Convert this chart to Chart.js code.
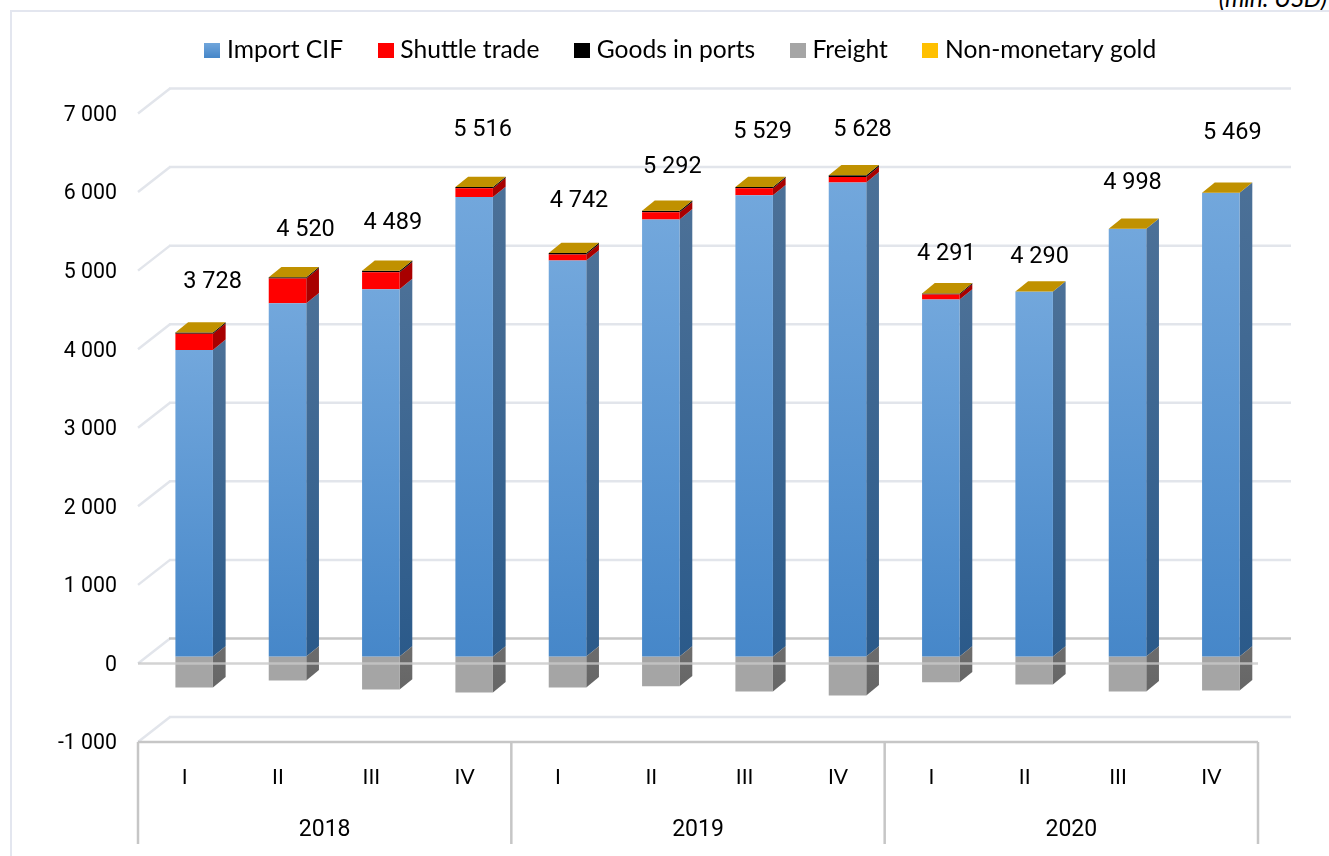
<!DOCTYPE html>
<html>

<head>
    <meta charset="UTF-8">
    <title>Imports by quarter</title>
    <script src="https://cdn.jsdelivr.net/npm/chart.js@4/dist/chart.umd.min.js"></script>
    <style>
        html, body { margin: 0; height: 100%; overflow: hidden; background: #fff; }
        #frame { position: absolute; left: 10px; top: 10px; border: 2px solid #e3e6ef; }
        #frame canvas { display: block; }
        #unit { position: absolute; right: 2px; top: -17px; font: italic 24.6px Lato, sans-serif; color: #000; }
    </style>
</head>

<body>
    <div id="unit">(mln. USD)</div>
    <div id="frame"><canvas id="chart" width="1338" height="860"></canvas></div>
    <script>
        const quarters = ['I', 'II', 'III', 'IV', 'I', 'II', 'III', 'IV', 'I', 'II', 'III', 'IV'];
        const years = ['2018', '2019', '2020'];
        const importCif = [3902, 4496, 4675, 5849, 5040, 5563, 5869, 6034, 4542, 4646, 5443, 5901];
        const shuttleTrade = [206, 315, 216, 110, 76, 90, 90, 70, 64, 0, 0, 0];
        const goodsInPorts = [14, 14, 18, 15, 20, 20, 15, 20, 15, 0, 0, 0];
        const freight = [-394, -305, -420, -458, -394, -381, -445, -496, -330, -356, -445, -432];
        const gold = [0, 0, 0, 0, 0, 0, 0, 0, 0, 0, 0, 0];
        const totals = [3728, 4520, 4489, 5516, 4742, 5292, 5529, 5628, 4291, 4290, 4998, 5469];

        // hand placed total labels, px away from the top of each bar
        const labelDx = [18.5, 18, 12, 8.5, 11.5, 11.5, 8.5, 15, 5.5, 5.5, 5, 11.5];
        const labelLift = [50, 47, 48, 57, 51.5, 44, 55, 45, 39, 34, 46, 60];

        const TEXT_FONT = 'Lato, sans-serif';
        const NUM_FONT = 'Roboto, sans-serif';
        const TEXT = '#000000';
        const GRID = '#e2e5eb';
        const AXIS = '#c6c6c6';

        // fake 3d: bars sit a bit behind the front plane, the wall further back
        const BAR_SHIFT_X = 9.5, BAR_SHIFT_Y = -7;
        const BAR_DEPTH_X = 12.7, BAR_DEPTH_Y = 10.3;
        const WALL_X = 32, WALL_Y = 25;
        const SEPARATOR_LENGTH = 102;
        const LEGEND_LIFT = 41, LEGEND_SHIFT = 48;

        const fmt = v => String(v).replace(/\B(?=(\d{3})+(?!\d))/g, ' ');

        function columnGradient(ctx, top, bottom) {
            const { chart, dataIndex } = ctx;
            const y = chart.scales.y;
            if (!y || dataIndex === undefined) return bottom;
            const g = chart.ctx.createLinearGradient(0, y.getPixelForValue(importCif[dataIndex]), 0, y.getPixelForValue(0));
            g.addColorStop(0, top);
            g.addColorStop(1, bottom);
            return g;
        }

        function swatch(top, bottom) {
            const c = document.createElement('canvas');
            c.width = 16;
            c.height = 15;
            const g = c.getContext('2d');
            const fill = g.createLinearGradient(0, 0, 0, 15);
            fill.addColorStop(0, top);
            fill.addColorStop(1, bottom);
            g.fillStyle = fill;
            g.fillRect(0, 0, 16, 15);
            return c;
        }

        const seriesStyle = [
            { side: ['#4b7097', '#2b5a8a'], legend: swatch('#72a7dc', '#4687c9') },
            { side: ['#a80000', '#a80000'], legend: swatch('#ff0000', '#ff0000') },
            { side: ['#000000', '#000000'], legend: swatch('#000000', '#000000') },
            { side: ['#6b6b6b', '#666666'], legend: swatch('#a5a5a5', '#a5a5a5') },
            { side: ['#a87e00', '#a87e00'], legend: swatch('#ffc000', '#ffc000') }
        ];

        const box3d = {
            id: 'box3d',
            afterLayout(chart) {
                chart.legend.top -= LEGEND_LIFT;
                chart.legend.left += LEGEND_SHIFT;
                chart.legend.right += LEGEND_SHIFT;
            },
            beforeDatasetsDraw(chart) {
                const { ctx, scales: { x, y } } = chart;
                ctx.save();

                // wall lines and the diagonals on the left side
                y.ticks.forEach(t => {
                    const py = y.getPixelForValue(t.value);
                    ctx.lineWidth = 2.5;
                    ctx.strokeStyle = GRID;
                    ctx.beginPath();
                    ctx.moveTo(x.left, py);
                    ctx.lineTo(x.left + WALL_X, py - WALL_Y);
                    ctx.stroke();
                    ctx.strokeStyle = t.value === 0 ? AXIS : GRID;
                    ctx.beginPath();
                    ctx.moveTo(x.left + WALL_X - 1, py - WALL_Y);
                    ctx.lineTo(x.right + WALL_X + 1, py - WALL_Y);
                    ctx.stroke();
                });

                ctx.translate(BAR_SHIFT_X, BAR_SHIFT_Y);

                // side faces
                chart.data.datasets.forEach((ds, i) => {
                    const style = seriesStyle[i];
                    chart.getDatasetMeta(i).data.forEach(bar => {
                        const right = bar.x + bar.width / 2;
                        const top = Math.min(bar.y, bar.base), bottom = Math.max(bar.y, bar.base);
                        if (bottom - top < 0.01) return;
                        const g = ctx.createLinearGradient(0, top, 0, bottom);
                        g.addColorStop(0, style.side[0]);
                        g.addColorStop(1, style.side[1]);
                        ctx.fillStyle = g;
                        ctx.beginPath();
                        ctx.moveTo(right, top);
                        ctx.lineTo(right + BAR_DEPTH_X, top - BAR_DEPTH_Y);
                        ctx.lineTo(right + BAR_DEPTH_X, bottom - BAR_DEPTH_Y);
                        ctx.lineTo(right, bottom);
                        ctx.closePath();
                        ctx.fill();
                    });
                });
            },
            afterDatasetsDraw(chart) {
                const { ctx, scales: { x, y } } = chart;
                const n = chart.data.datasets.length;

                // caps take the colour of the last series in the stack
                ctx.fillStyle = '#c09100';
                chart.getDatasetMeta(n - 1).data.forEach((bar, i) => {
                    const left = bar.x - bar.width / 2, right = bar.x + bar.width / 2;
                    ctx.beginPath();
                    ctx.moveTo(left, bar.y);
                    ctx.lineTo(right, bar.y);
                    ctx.lineTo(right + BAR_DEPTH_X, bar.y - BAR_DEPTH_Y);
                    ctx.lineTo(left + BAR_DEPTH_X, bar.y - BAR_DEPTH_Y);
                    ctx.closePath();
                    ctx.fill();
                });

                ctx.font = '23.5px ' + NUM_FONT;
                ctx.fillStyle = TEXT;
                ctx.textAlign = 'center';
                ctx.textBaseline = 'middle';
                chart.getDatasetMeta(n - 1).data.forEach((bar, i) => {
                    ctx.fillText(fmt(totals[i]), bar.x + labelDx[i], bar.y - labelLift[i]);
                });
                ctx.restore();

                // front floor lines lie over the bars
                ctx.save();
                ctx.lineWidth = 2.5;
                ctx.strokeStyle = 'rgba(200,200,200,0.8)';
                ctx.beginPath();
                ctx.moveTo(x.left, y.getPixelForValue(0));
                ctx.lineTo(x.right, y.getPixelForValue(0));
                ctx.stroke();
                ctx.strokeStyle = AXIS;
                ctx.beginPath();
                ctx.moveTo(x.left, y.bottom);
                ctx.lineTo(x.right, y.bottom);
                ctx.stroke();
                for (let k = 0; k <= years.length; k++) {
                    const px = x.left + x.width * k / years.length;
                    ctx.beginPath();
                    ctx.moveTo(px, y.bottom);
                    ctx.lineTo(px, y.bottom + SEPARATOR_LENGTH);
                    ctx.stroke();
                }
                ctx.restore();
            }
        };

        const series = (label, data, backgroundColor) => ({ label, data, backgroundColor, borderWidth: 0, stack: 'all', clip: false });

        new Chart(document.getElementById('chart').getContext('2d'), {
            type: 'bar',
            data: {
                labels: quarters,
                datasets: [
                    series('Import CIF', importCif, c => columnGradient(c, '#72a7dc', '#4687c9')),
                    series('Shuttle trade', shuttleTrade, '#ff0000'),
                    series('Goods in ports', goodsInPorts, '#000000'),
                    series('Freight', freight, '#a5a5a5'),
                    series('Non-monetary gold', gold, '#ffc000')
                ]
            },
            plugins: [box3d],
            options: {
                responsive: false,
                animation: false,
                layout: { padding: { top: 26.9, right: 92, bottom: 18 } },
                datasets: { bar: { categoryPercentage: 1, barPercentage: 0.402 } },
                scales: {
                    x: {
                        stacked: true,
                        afterFit(scale) { scale.height = 52; },
                        grid: { display: false },
                        border: { display: false },
                        ticks: { autoSkip: false, maxRotation: 0, padding: 15, color: TEXT, font: { family: TEXT_FONT, size: 21 } }
                    },
                    xYear: {
                        type: 'category',
                        labels: years,
                        position: 'bottom',
                        offset: true,
                        afterFit(scale) { scale.height = 60; },
                        grid: { display: false },
                        border: { display: false },
                        ticks: { maxRotation: 0, padding: 14, color: TEXT, font: { family: NUM_FONT, size: 23 } }
                    },
                    y: {
                        stacked: true,
                        min: -1000,
                        max: 7000,
                        afterFit(scale) { scale.width = 126; },
                        grid: { display: false },
                        border: { display: false },
                        ticks: { stepSize: 1000, padding: 13, labelOffset: 2, color: TEXT, font: { family: NUM_FONT, size: 21.3 }, callback: v => fmt(v) }
                    }
                },
                plugins: {
                    tooltip: { enabled: false },
                    legend: {
                        position: 'top',
                        labels: {
                            usePointStyle: true,
                            pointStyleWidth: 5,
                            padding: 40,
                            color: TEXT,
                            font: { family: TEXT_FONT, size: 24.6 },
                            generateLabels: chart => chart.data.datasets.map((ds, i) => ({
                                text: ds.label,
                                pointStyle: seriesStyle[i].legend,
                                datasetIndex: i,
                                fontColor: TEXT
                            }))
                        }
                    }
                }
            }
        });
    </script>
</body>

</html>
